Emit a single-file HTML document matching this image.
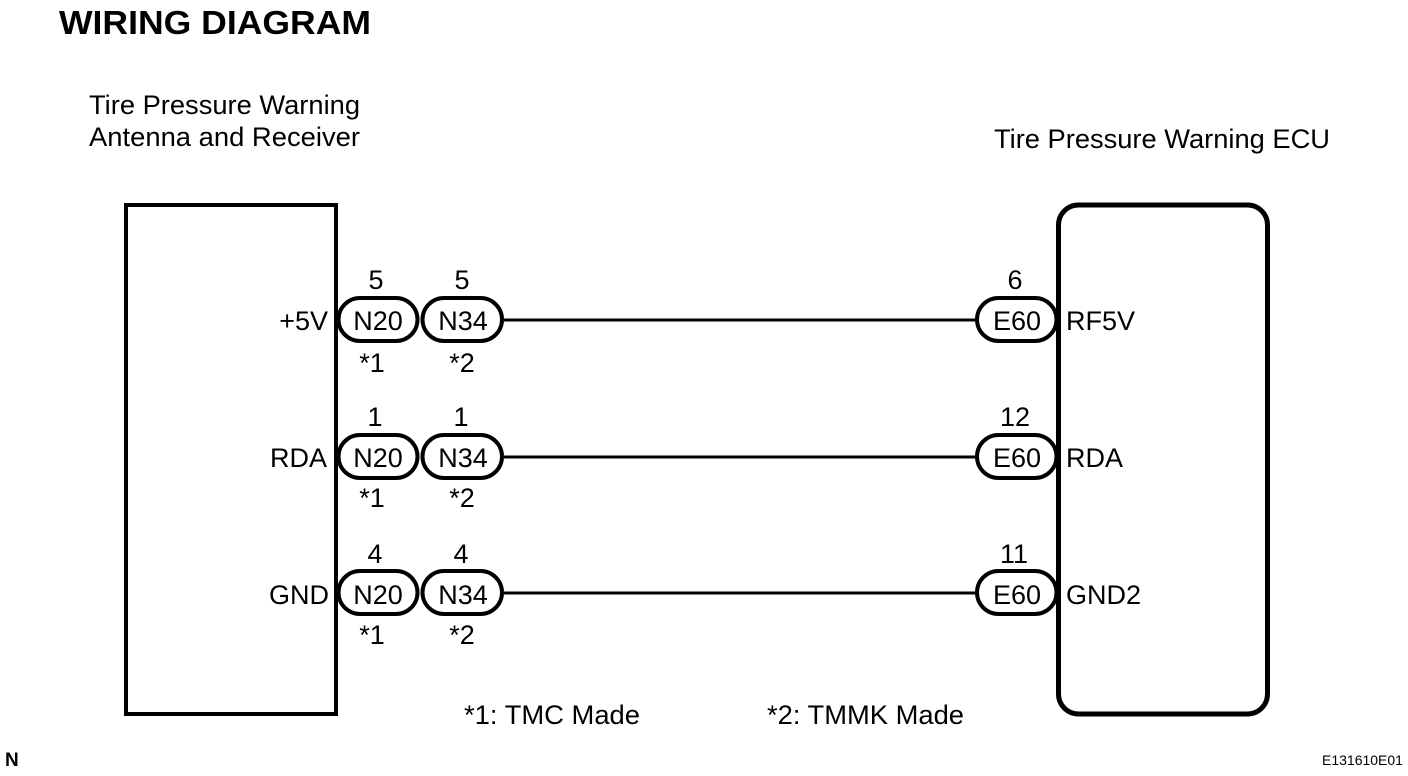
<!DOCTYPE html>
<html><head><meta charset="utf-8"><style>
html,body{margin:0;padding:0;background:#fff}
svg{display:block}
text{font-family:"Liberation Sans",Arial,sans-serif;fill:#000}
.t{font-size:27px}
</style></head><body>
<svg width="1408" height="776" viewBox="0 0 1408 776" xmlns="http://www.w3.org/2000/svg">
<rect width="1408" height="776" fill="#fff"/>
<text x="59" y="34" font-size="33" font-weight="bold" textLength="312" lengthAdjust="spacingAndGlyphs">WIRING DIAGRAM</text>
<g class="t">
<text x="89" y="114" textLength="271" lengthAdjust="spacingAndGlyphs">Tire Pressure Warning</text>
<text x="89" y="146" textLength="271" lengthAdjust="spacingAndGlyphs">Antenna and Receiver</text>
<text x="994" y="148" textLength="336" lengthAdjust="spacingAndGlyphs">Tire Pressure Warning ECU</text>
</g>
<g fill="none" stroke="#000">
<rect x="126" y="205" width="210" height="509" stroke-width="4"/>
<rect x="1058.5" y="205" width="209" height="509" rx="20" stroke-width="5"/>
<g stroke-width="3"><path d="M504 320H975M504 457H975M504 593H975"/></g>
<g stroke-width="4" fill="#fff">
<rect x="338.5" y="298" width="79" height="43" rx="21.5"/><rect x="422.5" y="298" width="79.5" height="43" rx="21.5"/><rect x="977" y="298" width="79.5" height="43" rx="21.5"/>
<rect x="338.5" y="435" width="79" height="43" rx="21.5"/><rect x="422.5" y="435" width="79.5" height="43" rx="21.5"/><rect x="977" y="435" width="79.5" height="43" rx="21.5"/>
<rect x="338.5" y="571" width="79" height="43" rx="21.5"/><rect x="422.5" y="571" width="79.5" height="43" rx="21.5"/><rect x="977" y="571" width="79.5" height="43" rx="21.5"/>
</g>
<path d="M1058.5 290V350M1058.5 427V487M1058.5 563V623" stroke-width="5"/>
</g>
<g class="t" text-anchor="middle">
<text x="378" y="330">N20</text><text x="463" y="330">N34</text><text x="1017" y="330">E60</text>
<text x="378" y="467">N20</text><text x="463" y="467">N34</text><text x="1017" y="467">E60</text>
<text x="378" y="604">N20</text><text x="463" y="604">N34</text><text x="1017" y="604">E60</text>
<text x="376" y="289">5</text><text x="462" y="289">5</text><text x="1015" y="289">6</text>
<text x="375" y="426">1</text><text x="461" y="426">1</text><text x="1015" y="426">12</text>
<text x="375" y="563">4</text><text x="461" y="563">4</text><text x="1014" y="563">11</text>
<text x="372" y="372">*1</text><text x="462" y="372">*2</text>
<text x="372" y="507">*1</text><text x="462" y="507">*2</text>
<text x="372" y="644">*1</text><text x="462" y="644">*2</text>
</g>
<g class="t" text-anchor="end">
<text x="328" y="330">+5V</text><text x="327" y="467">RDA</text><text x="329" y="604">GND</text>
</g>
<g class="t">
<text x="1066" y="330">RF5V</text><text x="1066" y="467">RDA</text><text x="1066" y="604">GND2</text>
<text x="464" y="724" textLength="176" lengthAdjust="spacingAndGlyphs">*1: TMC Made</text><text x="767" y="724" textLength="197" lengthAdjust="spacingAndGlyphs">*2: TMMK Made</text>
</g>
<text x="5" y="766" font-size="19" font-weight="bold">N</text>
<text x="1322" y="765" font-size="14">E131610E01</text>
</svg>
</body></html>
